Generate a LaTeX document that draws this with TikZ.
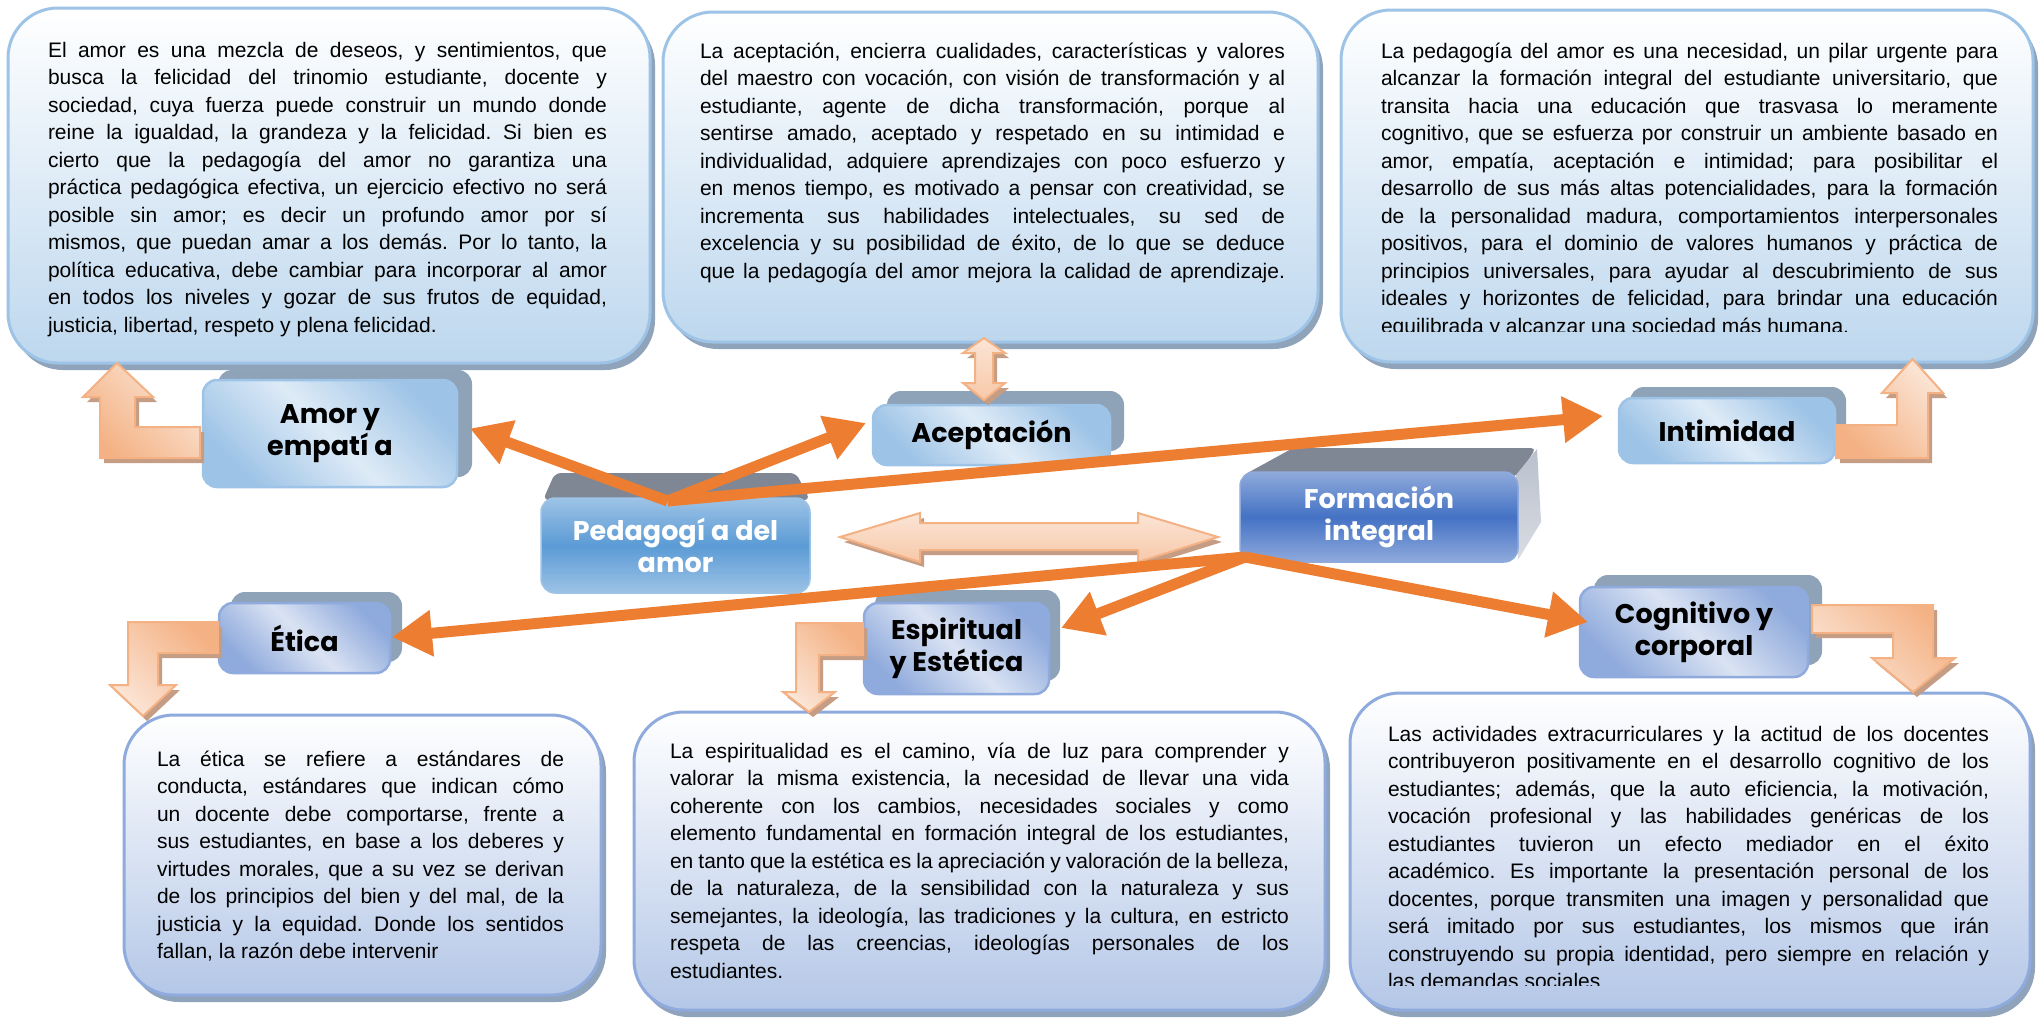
\documentclass[tikz,border=0pt]{standalone}
\usepackage{fontspec}
\setmainfont{Liberation Sans}
\newfontfamily\labfont{Poppins}
\usetikzlibrary{arrows.meta,shadows,calc}

\definecolor{tline}{HTML}{9DC3E6}
\definecolor{tfill}{HTML}{BDD7EE}
\definecolor{bline}{HTML}{8FAADC}
\definecolor{bfill}{HTML}{B4C7E7}
\definecolor{bshadow}{HTML}{8FA3BA}
\definecolor{nblue}{HTML}{9DC3E6}
\definecolor{nlight}{HTML}{DEEBF7}
\definecolor{pblue}{HTML}{8FAADC}
\definecolor{plight}{HTML}{DAE3F3}
\definecolor{nshadow}{HTML}{8EA2B8}
\definecolor{peachD}{HTML}{F4B183}
\definecolor{peachL}{HTML}{FBE5D6}
\definecolor{peachS}{HTML}{C59C84}
\definecolor{orangeA}{HTML}{ED7D31}
\definecolor{pedL}{HTML}{9DC3E6}
\definecolor{pedM}{HTML}{5B9BD5}
\definecolor{forL}{HTML}{8FAADC}
\definecolor{forM}{HTML}{4472C4}
\definecolor{faceD}{HTML}{7F8694}
\definecolor{faceR}{HTML}{B9C0CC}

\newcommand\mybody[2]{\parbox[t]{#1}{\fontsize{21}{27.5}\selectfont\frenchspacing\tolerance=10000\hyphenpenalty=10000\relax #2}}

\begin{document}
\begin{tikzpicture}[x=1pt,y=-1pt,
  tbox/.style={rounded corners=50pt, line width=3pt, inner sep=0pt, outer sep=0pt,
    general shadow={fill=bshadow, shadow xshift=5pt, shadow yshift=-7pt}},
  topbox/.style={tbox, draw=tline, top color=white, bottom color=tfill},
  botbox/.style={tbox, draw=bline, top color=white, bottom color=bfill},
  txt/.style={anchor=base west, inner sep=0pt, outer sep=0pt},
  lab/.style={font={\labfont\bfseries\fontsize{27}{32}\selectfont}, align=center,
    rounded corners=14pt, line width=2.5pt, inner sep=0pt, outer sep=0pt},
  nsh/.style 2 args={general shadow={fill=nshadow, shadow xshift=#1, shadow yshift=#2}},
  bluenode/.style={lab, draw=nblue, top color=nblue, bottom color=nblue, middle color=nlight, shading angle=-45},
  purpnode/.style={lab, draw=pblue, top color=pblue, bottom color=pblue, middle color=plight, shading angle=-45},
  peach/.style={draw=peachD, line width=2pt, line join=miter,
    general shadow={fill=peachS, shadow xshift=4pt, shadow yshift=-5pt}},
  peachA/.style={peach, top color=peachL, bottom color=peachD, shading angle=-45},
  peachB/.style={peach, top color=peachD, bottom color=peachL, shading angle=-45},
  peachH/.style={peach, top color=peachL, bottom color=peachD!55!peachL},
  oarr/.style={draw=orangeA, line width=11pt, -{Triangle[length=40pt,width=44pt]}}
]
\path[use as bounding box, fill=white] (0,0) rectangle (2041,1017);

% ---------- text boxes ----------
\node[topbox, minimum width=642pt, minimum height=355pt] (b1) at (329,185.5) {};
\node[topbox, minimum width=655pt, minimum height=330pt] (b2) at (990.5,177) {};
\node[topbox, minimum width=692pt, minimum height=352pt] (b3) at (1687,186) {};
\node[botbox, minimum width=477pt, minimum height=280pt] (b4) at (362.5,855) {};
\node[botbox, minimum width=691pt, minimum height=298pt] (b5) at (979.5,861) {};
\node[botbox, minimum width=680pt, minimum height=317pt] (b6) at (1690,851.5) {};

\begin{scope}
\clip (0,0) rectangle (660,336);
\node[txt] (t1) at (48,57) {\mybody{559pt}{El amor es una mezcla de deseos, y sentimientos, que\linebreak
busca la felicidad del trinomio estudiante, docente y\linebreak
sociedad, cuya fuerza puede construir un mundo donde\linebreak
reine la igualdad, la grandeza y la felicidad. Si bien es\linebreak
cierto que la pedagogía del amor no garantiza una\linebreak
práctica pedagógica efectiva, un ejercicio efectivo no será\linebreak
posible sin amor; es decir un profundo amor por sí\linebreak
mismos, que puedan amar a los demás. Por lo tanto, la\linebreak
política educativa, debe cambiar para incorporar al amor\linebreak
en todos los niveles y gozar de sus frutos de equidad,\linebreak
justicia, libertad, respeto y plena felicidad.}};
\end{scope}

\node[txt] (t2) at (700,58) {\mybody{585pt}{\parfillskip=0pt La aceptación, encierra cualidades, características y valores\linebreak
del maestro con vocación, con visión de transformación y al\linebreak
estudiante, agente de dicha transformación, porque al\linebreak
sentirse amado, aceptado y respetado en su intimidad e\linebreak
individualidad, adquiere aprendizajes con poco esfuerzo y\linebreak
en menos tiempo, es motivado a pensar con creatividad, se\linebreak
incrementa sus habilidades intelectuales, su sed de\linebreak
excelencia y su posibilidad de éxito, de lo que se deduce\linebreak
que la pedagogía del amor mejora la calidad de aprendizaje.}};

\begin{scope}
\clip (1330,0) rectangle (2041,331);
\node[txt] (t3) at (1381,58) {\mybody{617pt}{La pedagogía del amor es una necesidad, un pilar urgente para\linebreak
alcanzar la formación integral del estudiante universitario, que\linebreak
transita hacia una educación que trasvasa lo meramente\linebreak
cognitivo, que se esfuerza por construir un ambiente basado en\linebreak
amor, empatía, aceptación e intimidad; para posibilitar el\linebreak
desarrollo de sus más altas potencialidades, para la formación\linebreak
de la personalidad madura, comportamientos interpersonales\linebreak
positivos, para el dominio de valores humanos y práctica de\linebreak
principios universales, para ayudar al descubrimiento de sus\linebreak
ideales y horizontes de felicidad, para brindar una educación\linebreak
equilibrada y alcanzar una sociedad más humana.}};
\end{scope}

\node[txt] (t4) at (157,766) {\mybody{407pt}{La ética se refiere a estándares de\linebreak
conducta, estándares que indican cómo\linebreak
un docente debe comportarse, frente a\linebreak
sus estudiantes, en base a los deberes y\linebreak
virtudes morales, que a su vez se derivan\linebreak
de los principios del bien y del mal, de la\linebreak
justicia y la equidad. Donde los sentidos\linebreak
fallan, la razón debe intervenir}};

\node[txt] (t5) at (670,758) {\mybody{619pt}{La espiritualidad es el camino, vía de luz para comprender y\linebreak
valorar la misma existencia, la necesidad de llevar una vida\linebreak
coherente con los cambios, necesidades sociales y como\linebreak
elemento fundamental en formación integral de los estudiantes,\linebreak
en tanto que la estética es la apreciación y valoración de la belleza,\linebreak
de la naturaleza, de la sensibilidad con la naturaleza y sus\linebreak
semejantes, la ideología, las tradiciones y la cultura, en estricto\linebreak
respeta de las creencias, ideologías personales de los\linebreak
estudiantes.}};

\begin{scope}
\clip (1340,680) rectangle (2041,985);
\node[txt] (t6) at (1388,741) {\mybody{601pt}{Las actividades extracurriculares y la actitud de los docentes\linebreak
contribuyeron positivamente en el desarrollo cognitivo de los\linebreak
estudiantes; además, que la auto eficiencia, la motivación,\linebreak
vocación profesional y las habilidades genéricas de los\linebreak
estudiantes tuvieron un efecto mediador en el éxito\linebreak
académico. Es importante la presentación personal de los\linebreak
docentes, porque transmiten una imagen y personalidad que\linebreak
será imitado por sus estudiantes, los mismos que irán\linebreak
construyendo su propia identidad, pero siempre en relación y\linebreak
las demandas sociales}};
\end{scope}

% ---------- 3D faces of the two central nodes ----------
\fill[faceD, rounded corners=6pt] (543,500) -- (555,473) -- (796,473) -- (810,500) -- cycle;
\fill[faceD, rounded corners=5pt] (1242,476) -- (1293,448) -- (1536,448) -- (1518,476) -- cycle;
\shade[top color=faceR, bottom color=faceR!55!white] (1516,475) -- (1537,449) -- (1541,522) -- (1518,560) -- cycle;

% ---------- nodes (positions) ----------
\path (330,433.5) coordinate (pAmor) (991.5,435) coordinate (pAcep) (1727,430.5) coordinate (pIntim)
      (1694,632) coordinate (pCogn) (304.5,638) coordinate (pEtica) (956.5,648.5) coordinate (pEspir)
      (675.5,545.5) coordinate (pPed) (1379,517) coordinate (pForm);

\node[bluenode, nsh={15pt}{10pt}, minimum width=254pt, minimum height=107pt] (amor) at (pAmor) {Amor y\\empatí a};
\node[bluenode, nsh={14pt}{14pt}, minimum width=237pt, minimum height=60pt] (acep) at (pAcep) {Aceptación};
\node[bluenode, nsh={11pt}{11pt}, minimum width=216pt, minimum height=65pt] (intim) at (pIntim) {Intimidad};
\node[purpnode, nsh={14pt}{12pt}, minimum width=228pt, minimum height=90pt] (cogn) at (pCogn) {Cognitivo y\\corporal};
\node[purpnode, nsh={12pt}{11pt}, minimum width=171pt, minimum height=70pt] (etica) at (pEtica) {Ética};
\node[purpnode, nsh={11pt}{13pt}, minimum width=185pt, minimum height=91pt] (espir) at (pEspir) {Espiritual\\y Estética};
\node[lab, text=white, draw=pedL, line width=1.5pt, top color=pedL, bottom color=pedL, middle color=pedM,
      minimum width=269pt, minimum height=95pt] (ped) at (pPed) {Pedagogí a del\\amor};
\node[lab, text=white, draw=forL, line width=1.5pt, top color=forL, bottom color=forL, middle color=forM,
      minimum width=278pt, minimum height=90pt] (form) at (pForm) {Formación\\integral};

% ---------- peach block arrows ----------
\path[peachA] ($(amor.west)+(-3,24.5)$) -- ++(0,-31) -- ++(-65,0) -- ++(0,-30) -- ++(18,0)
   -- ++(-36,-34) -- ++(-34,34) -- ++(17,0) -- ++(0,61) -- cycle;
\path[peachA] ($(intim.east)+(1,27.5)$) -- ++(92,0) -- ++(0,-65) -- ++(15,0) -- ++(-30.5,-34)
   -- ++(-30.5,34) -- ++(15,0) -- ++(0,32) -- ++(-61,0) -- cycle;
\path[peachB] ($(cogn.east)+(4,-27)$) -- ++(121,0) -- ++(0,53) -- ++(22,0) -- ++(-42,34)
   -- ++(-41,-34) -- ++(21,0) -- ++(0,-25) -- ++(-81,0) -- cycle;
\path[peachB] ($(etica.west)+(-1,-16)$) -- ++(-90,0) -- ++(0,63) -- ++(-18,0) -- ++(33,31)
   -- ++(33,-31) -- ++(-18,0) -- ++(0,-32) -- ++(60,0) -- cycle;
\path[peachB] ($(espir.west)+(-1,-25.5)$) -- ++(-67,0) -- ++(0,69) -- ++(-13,0) -- ++(26,20)
   -- ++(26,-20) -- ++(-16,0) -- ++(0,-37) -- ++(44,0) -- cycle;
\path[peachH] ($(ped.east)+(30,-8.5)$) -- ++(80,-24) -- ++(0,10) -- ++(218,0) -- ++(0,-10)
   -- ++(80,24) -- ++(-80,25) -- ++(0,-12) -- ++(-218,0) -- ++(0,12) -- cycle;
\path[peachH] ($(b2.south)+(-6.5,-4)$) -- ++(21,15) -- ++(-12,0) -- ++(0,30) -- ++(12,0)
   -- ++(-21,17) -- ++(-21,-17) -- ++(12,0) -- ++(0,-30) -- ++(-12,0) -- cycle;

% ---------- orange connectors ----------
\coordinate (pedtop) at ($(ped.north)+(-8,3)$);
\coordinate (formbot) at ($(form.south west)+(5,-5)$);
\coordinate (amortip) at ($(amor.east)+(13,-5)$);
\coordinate (aceptip) at ($(acep.west)+(-7,-12)$);
\coordinate (intimtip) at ($(intim.west)+(-16,-14.5)$);
\coordinate (eticatip) at ($(etica.east)+(2,-1)$);
\coordinate (espirtip) at ($(espir.east)+(12,-20.5)$);
\coordinate (cogntip) at ($(cogn.west)+(8,-10)$);

\draw[oarr] (pedtop) -- (amortip);
\draw[oarr] (pedtop) -- (aceptip);
\draw[oarr] (pedtop) -- (intimtip);
\draw[oarr] (formbot) -- (eticatip);
\draw[oarr] (formbot) -- (espirtip);
\draw[oarr] (formbot) -- (cogntip);
\end{tikzpicture}
\end{document}
